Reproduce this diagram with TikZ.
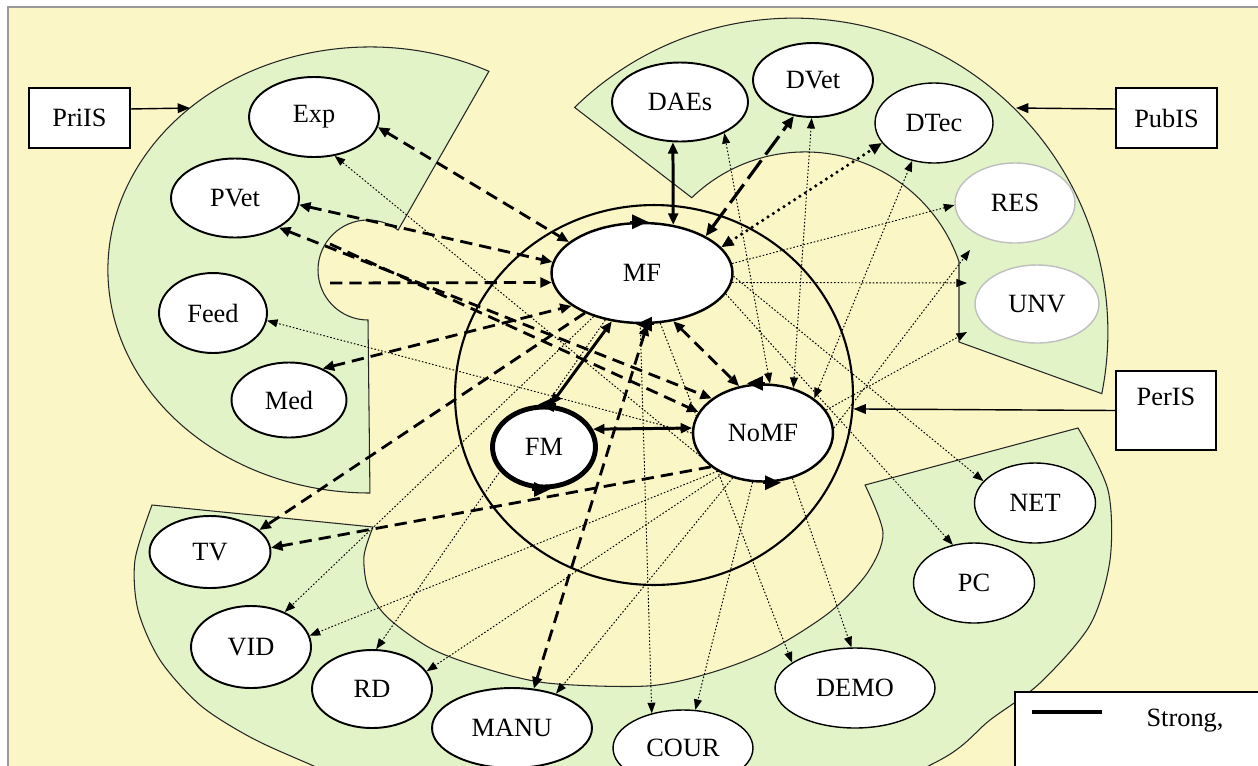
\documentclass[tikz,border=0pt]{standalone}
\usepackage{fontspec}
\setmainfont{Liberation Serif}
\usetikzlibrary{shapes.geometric,arrows.meta}
\definecolor{bgyellow}{RGB}{250,246,197}
\definecolor{zonegreen}{RGB}{226,243,200}
\pgfdeclarelayer{back}
\pgfdeclarelayer{links}
\pgfsetlayers{back,links,main}
\newcommand{\labfont}{\fontsize{15}{18}\selectfont}

\begin{document}
\begin{tikzpicture}[x=0.02cm,y=-0.02cm,
  actor/.style={ellipse,draw,fill=white,line width=1.1pt,inner sep=0pt,font=\labfont},
  actorlite/.style={actor,line width=0.8pt},
  actorfaint/.style={actor,draw=black!25,line width=0.8pt},
  isbox/.style={draw,fill=white,line width=0.8pt,minimum width=2.02cm,minimum height=1.2cm,font=\labfont},
  zonefill/.style={fill=zonegreen,draw=black!85,line width=0.6pt},
  midlink/.style={line width=1.6pt,dash pattern=on 7pt off 4pt,>={Triangle[length=6.5pt,width=5.5pt]}},
  stronglink/.style={line width=1.7pt,>={Triangle[length=6.5pt,width=5.5pt]}},
  longlink/.style={line width=1.8pt,dash pattern=on 13pt off 4pt,>={Triangle[length=7pt,width=6pt]}},
  dotlink/.style={line width=2pt,line cap=round,dash pattern=on 0pt off 3.6pt,>={Triangle[length=7pt,width=6pt]}},
  weaklink/.style={line width=0.55pt,dash pattern=on 0.9pt off 1.1pt,>={Triangle[length=6pt,width=4.5pt]}},
  circarrow/.style={line width=1.4pt,-{Triangle[length=9pt,width=8pt]}},
  pointer/.style={line width=0.8pt,-{Triangle[length=7pt,width=5.5pt]}}]

  \useasboundingbox (0,0) rectangle (1258,765);

  \begin{pgfonlayer}{back}
    \fill[white] (0,0) rectangle (1258,765);
    \filldraw[fill=bgyellow,draw=black!40,line width=0.6pt] (8,7) rectangle (1280,790);
    \filldraw[zonefill] (488.9,71.3) arc[start angle=-63,end angle=-270,x radius=262,y radius=223]
      -- (368,320) arc[start angle=90,end angle=307,radius=50] -- cycle;
    \filldraw[zonefill] (574.6,107.4) arc[start angle=225.7,end angle=371.3,radius=314]
      -- (959,342) -- (959,261.6) arc[start angle=340.9,end angle=226,radius=163] -- cycle;
    \filldraw[zonefill] (152,505) -- (373,527)
      -- plot[smooth] coordinates {(373,527) (364,556) (368,588) (387,617) (430,648) (480,667) (547,683) (647,686) (710,673) (770,650) (830,612) (868,572) (883,533) (865,485)}
      -- (1078,428)
      -- plot[smooth] coordinates {(1078,428) (1108,490) (1110,560) (1090,625) (1040,683) (990,720) (940,760) (800,820) (620,840) (420,810) (307,763) (250,737) (200,705) (160,660) (138,610) (135,560) (152,505)} -- cycle;
  \end{pgfonlayer}

  \node[ellipse,draw,line width=1.2pt,minimum width=7.96cm,minimum height=7.6cm] (core) at (654,395) {};

  \node[actor,minimum width=2.6cm,minimum height=1.6cm] (Exp) at (314,117) {Exp};
  \node[actor,minimum width=2.56cm,minimum height=1.58cm] (PVet) at (235,198) {PVet};
  \node[actor,minimum width=2.16cm,minimum height=1.6cm] (Feed) at (213,313) {Feed};
  \node[actor,minimum width=2.3cm,minimum height=1.5cm] (Med) at (289,400) {Med};
  \node[actor,minimum width=2.72cm,minimum height=1.58cm] (DAEs) at (680,102) {DAEs};
  \node[actor,minimum width=2.4cm,minimum height=1.48cm] (DVet) at (813,80) {DVet};
  \node[actorlite,minimum width=2.36cm,minimum height=1.6cm] (DTec) at (934,123) {DTec};
  \node[actorfaint,minimum width=2.4cm,minimum height=1.6cm] (RES) at (1015,203) {RES};
  \node[actorfaint,minimum width=2.48cm,minimum height=1.56cm] (UNV) at (1037,304) {UNV};
  \node[actor,line width=1.4pt,minimum width=3.62cm,minimum height=2cm] (MF) at (642,273) {MF};
  \node[actor,line width=2.8pt,minimum width=2.06cm,minimum height=1.6cm] (FM) at (544,447) {FM};
  \node[actor,line width=1.4pt,minimum width=2.8cm,minimum height=1.94cm] (NoMF) at (763,433) {NoMF};
  \node[actorlite,minimum width=2.42cm,minimum height=1.6cm] (NET) at (1035,503) {NET};
  \node[actorlite,minimum width=2.42cm,minimum height=1.6cm] (PC) at (974,583) {PC};
  \node[actorlite,minimum width=3.2cm,minimum height=1.6cm] (DEMO) at (855,688) {DEMO};
  \node[actorlite,minimum width=2.8cm,minimum height=1.52cm] (COUR) at (683,748) {COUR};
  \node[actor,minimum width=3.2cm,minimum height=1.6cm] (MANU) at (512,728) {MANU};
  \node[actor,minimum width=2.4cm,minimum height=1.56cm] (RD) at (372,689) {RD};
  \node[actor,minimum width=2.4cm,minimum height=1.64cm] (VID) at (251,647) {VID};
  \node[actor,minimum width=2.42cm,minimum height=1.44cm] (TV) at (210,552) {TV};

  \node[isbox] (PriIS) at (79.5,118) {PriIS};
  \node[isbox] (PubIS) at (1166.5,118) {PubIS};
  \node[isbox,minimum width=2cm,inner ysep=0pt,text height=19.7pt,text depth=25.3pt] (PerIS) at (1166,410.5) {PerIS};

  \coordinate (priTip) at (190,108);
  \coordinate (pubTip) at (1016,108);
  \coordinate (priA) at (330,283);
  \coordinate (priB) at (330,244);
  \coordinate (pubA) at (970,250);
  \coordinate (pubB) at (967,283);
  \coordinate (pubC) at (967,332);

  \draw[pointer] (PriIS.10) -- (priTip);
  \draw[pointer] (PubIS.170) -- (pubTip);
  \draw[pointer] (PerIS.west) -- (core.-4);

  \begin{pgfonlayer}{links}
    \draw[midlink,<->] (Exp.351) -- (MF.157);
    \draw[midlink,<->] (PVet.354) -- (MF.173);
    \draw[midlink,<->] (PVet.326) -- (NoMF.146);
    \draw[midlink,->] (priA) -- (MF.186);
    \draw[midlink,->] (priB) -- (NoMF.162);
    \draw[midlink,<->] (Med.43) -- (MF.205);
    \draw[midlink,->] (MF.215) -- (TV.24);
    \draw[midlink,->] (NoMF.213) -- (TV.4);
    \draw[midlink,<->] (MF.276) -- (MANU.61);
    \draw[midlink,<->] (MF.303) -- (NoMF.117);

    \draw[stronglink,<->] (DAEs.260) -- (MF.57);
    \draw[stronglink,<->] (MF.238) -- (FM.81);
    \draw[stronglink,<->] (FM.20) -- (NoMF.176);
    \draw[longlink,<->] (MF.30) -- (DVet.242);
    \draw[dotlink,<->] (MF.18) -- (DTec.201);

    \draw[weaklink,<->] (NoMF.82) -- (DAEs.325);
    \draw[weaklink,<->] (NoMF.56) -- (DVet.268);
    \draw[weaklink,<->] (NoMF.34) -- (DTec.240);
    \draw[weaklink,->] (MF.6) -- (RES.182);
    \draw[weaklink,->] (MF.354) -- (pubB);
    \draw[weaklink,->] (NoMF.4) -- (pubA);
    \draw[weaklink,->] (NoMF.20) -- (pubC);
    \draw[weaklink,->] (MF.358) -- (NET.157);
    \draw[weaklink,->] (MF.346) -- (PC.119);
    \draw[weaklink,->] (MF.268) -- (COUR.132);
    \draw[weaklink,->] (NoMF.258) -- (COUR.72);
    \draw[weaklink,->] (MF.290) -- (DEMO.158);
    \draw[weaklink,->] (NoMF.303) -- (DEMO.95);
    \draw[weaklink,->] (NoMF.236) -- (MANU.38);
    \draw[weaklink,->] (NoMF.225) -- (RD.18);
    \draw[weaklink,->] (NoMF.220) -- (VID.11);
    \draw[weaklink,->] (MF.222) -- (VID.46);
    \draw[weaklink,->] (MF.232) -- (RD.84);
    \draw[weaklink,->] (NoMF.180) -- (Feed.352);
    \draw[weaklink,->] (NoMF.200) -- (Exp.298);
  \end{pgfonlayer}

  \draw[circarrow] (MF.north) ++(-12,0) -- ++(18,0);
  \draw[circarrow] (MF.south) ++(12,0) -- ++(-18,0);
  \draw[circarrow] (FM.north) ++(12,0) -- ++(-18,0);
  \draw[circarrow] (FM.south) ++(-12,0) -- ++(18,0);
  \draw[circarrow] (NoMF.north) ++(2,0) -- ++(-18,0);
  \draw[circarrow] (NoMF.south) ++(0,0) -- ++(18,0);

  \draw[fill=white,line width=0.8pt] (1015,692) rectangle (1280,790);
  \draw[line width=2.2pt] (1032,712) -- (1102,712);
  \node[font=\labfont] (strongkey) at (1185,721) {Strong,};
\end{tikzpicture}
\end{document}
